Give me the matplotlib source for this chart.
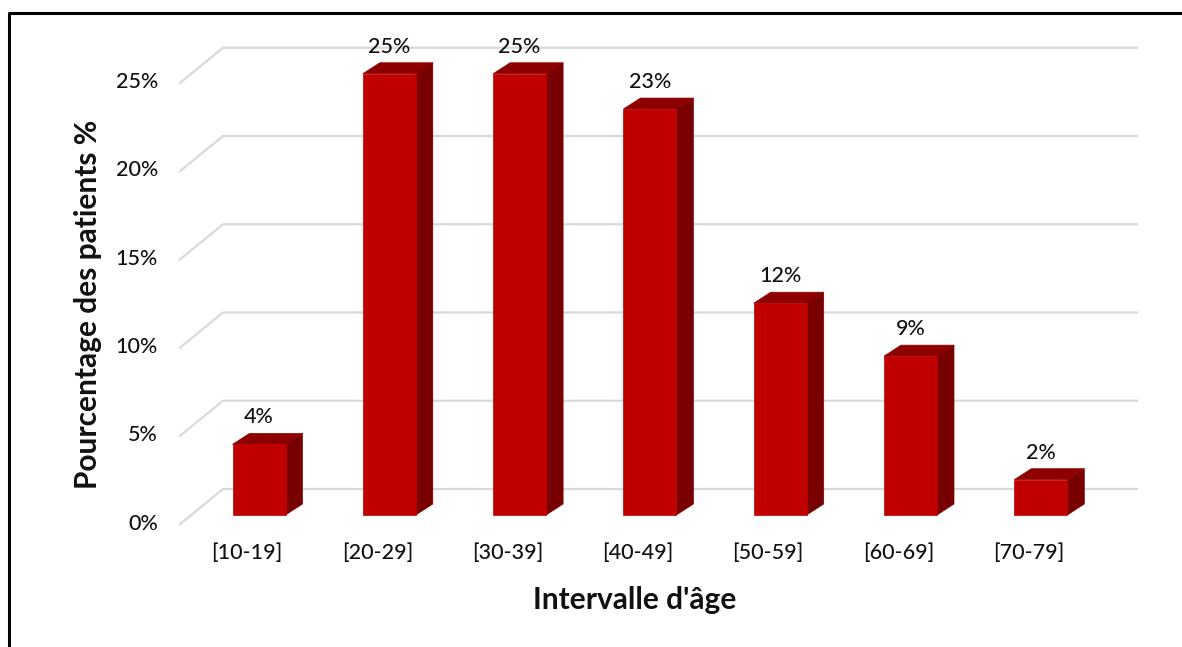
import matplotlib
matplotlib.use("Agg")
import matplotlib.pyplot as plt
from matplotlib.patches import Polygon, Rectangle
from matplotlib.lines import Line2D

# Data
categories = ["[10-19]", "[20-29]", "[30-39]", "[40-49]", "[50-59]", "[60-69]", "[70-79]"]
percentages = [4, 25, 25, 23, 12, 9, 2]
tick_values = [0, 5, 10, 15, 20, 25]
tick_labels = ["0%", "5%", "10%", "15%", "20%", "25%"]
x_title = "Intervalle d'âge"
y_title = "Pourcentage des patients %"

# Canvas
W, H, DPI = 1182, 647, 100
fig = plt.figure(figsize=(W / DPI, H / DPI), dpi=DPI)
fig.patch.set_facecolor("white")
ax = fig.add_axes([0, 0, 1, 1])

# Scale: pixels per category step and per percentage point
PX_X, PX_Y = 130.3, 17.65
X0_PX, Y0_PX = 259, 515
ax.set_xlim(-X0_PX / PX_X, (W - X0_PX) / PX_X)
ax.set_ylim((Y0_PX - H) / PX_Y, Y0_PX / PX_Y)
ax.axis("off")

def dx(px):
    return px / PX_X

def dy(px):
    return px / PX_Y

FONT = "Lato"
TEXT_COLOR = "#111111"
LABEL_SIZE = 15.5
LABEL_WEIGHT = "medium"

# Perspective gridlines: short slanted floor edge, then the back wall line
grid_front_x, grid_back_x, grid_end_x = dx(179 - X0_PX), dx(223 - X0_PX), dx(1138 - X0_PX)
grid_front_dy, grid_back_dy = -dy(10), dy(26)
for v, lab in zip(tick_values, tick_labels):
    ax.plot([grid_front_x, grid_back_x, grid_end_x],
            [v + grid_front_dy, v + grid_back_dy, v + grid_back_dy],
            color="#d9d9d9", lw=1.6, solid_capstyle="butt", zorder=1)
    ax.text(dx(158 - X0_PX), v + grid_front_dy + dy(1.5), lab, ha="right", va="center",
            fontsize=LABEL_SIZE, fontweight=LABEL_WEIGHT, family=FONT, color=TEXT_COLOR)

# 3D-style bars: front face, top face and right side face
bar_w = dx(53)
depth_x, depth_y = dx(17), dy(11)
front_c, top_c, side_c = "#c00000", "#8e0000", "#780000"
for i, (cat, v) in enumerate(zip(categories, percentages)):
    l, r = i - bar_w / 2, i + bar_w / 2
    ax.add_patch(Polygon([(r, 0), (r + depth_x, depth_y), (r + depth_x, v + depth_y), (r, v)],
                         closed=True, facecolor=side_c, edgecolor=side_c, lw=0.5, zorder=3))
    ax.add_patch(Polygon([(l, v), (l + depth_x, v + depth_y), (r + depth_x, v + depth_y), (r, v)],
                         closed=True, facecolor=top_c, edgecolor=top_c, lw=0.5, zorder=3))
    ax.add_patch(Rectangle((l, 0), bar_w, v, facecolor=front_c, edgecolor=front_c,
                           lw=0.5, zorder=4))
    ax.text(i, v + dy(27), f"{v}%", ha="center", va="center",
            fontsize=LABEL_SIZE, fontweight=LABEL_WEIGHT, family=FONT, color=TEXT_COLOR,
            zorder=5)
    ax.text(i - dx(12), -dy(38), cat, ha="center", va="center",
            fontsize=LABEL_SIZE, fontweight=LABEL_WEIGHT, family=FONT, color=TEXT_COLOR)

# Axis titles
fig.text(635 / W, 1 - 600 / H, x_title, ha="center", va="center",
         fontsize=21.5, fontweight="bold", family=FONT, color=TEXT_COLOR)
fig.text(88 / W, 1 - 304 / H, y_title, ha="center", va="center", rotation=90,
         fontsize=21.5, fontweight="bold", family=FONT, color=TEXT_COLOR)

# Frame around the chart area (left and top edges visible)
fig.add_artist(Line2D([9.5 / W, 9.5 / W, 1.0], [0.0, 1 - 12.5 / H, 1 - 12.5 / H],
                      transform=fig.transFigure, color="black", lw=2.2))

fig.savefig("out.png", dpi=DPI, facecolor="white")
